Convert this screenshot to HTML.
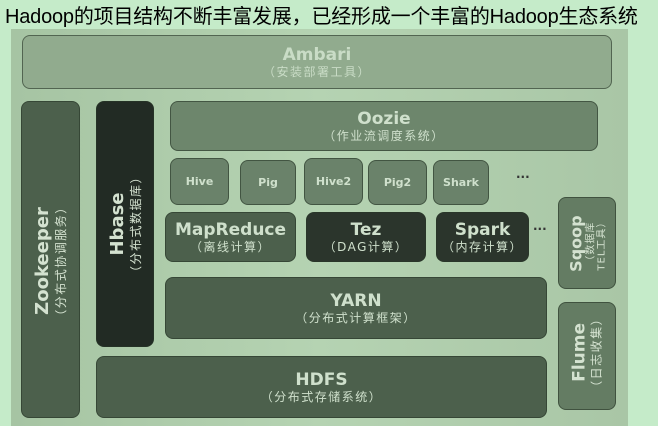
<!DOCTYPE html>
<html><head><meta charset="utf-8"><style>
body{margin:0;width:658px;height:426px;background:#c5ebc9;overflow:hidden;position:relative;font-family:"DejaVu Sans","Noto Sans CJK SC",sans-serif}
.t{position:absolute;left:5px;top:0px;font-family:"Liberation Sans","Noto Sans CJK SC",sans-serif;font-size:20px;color:#000;white-space:nowrap;letter-spacing:-0.2px}
.p{position:absolute;left:11px;top:29px;width:617px;height:397px;background:linear-gradient(90deg,#a6c4a3,#b5d3b2 50%,#a9c6a6)}
.b{position:absolute;border-radius:8px;box-sizing:border-box;border:1.5px solid rgba(40,55,40,.6);color:#cfe0cc;text-align:center;font-weight:bold;display:flex;flex-direction:column;justify-content:center;align-items:center;line-height:1.2}
.m{background:#4c604c}.d{background:#222b24}.s{background:#6a826a;font-size:11px}
.n{font-size:17px}.c{font-size:12px;font-weight:normal;letter-spacing:1.5px}
.v{position:absolute;transform:rotate(-90deg);transform-origin:center;text-align:center;color:#d4e2d0;font-weight:bold;line-height:1.2;white-space:nowrap}
.dot{position:absolute;color:#333;font-size:12px;font-weight:bold}
</style></head><body>
<div class="t">Hadoop的项目结构不断丰富发展，已经形成一个丰富的Hadoop生态系统</div>
<div class="p"></div>
<div class="b" style="left:22px;top:35px;width:590px;height:54px;background:#91ab8e;color:#c9dcc6"><div class="n">Ambari</div><div class="c">（安装部署工具）</div></div>
<div class="b m" style="left:21px;top:101px;width:59px;height:317px"></div>
<div class="v" style="left:-45px;top:243px;width:190px"><div class="n" style="font-size:18px">Zookeeper</div><div class="c">（分布式协调服务）</div></div>
<div class="b d" style="left:96px;top:101px;width:58px;height:246px"></div>
<div class="v" style="left:30px;top:206px;width:190px"><div class="n" style="font-size:18px">Hbase</div><div class="c">（分布式数据库）</div></div>
<div class="b" style="left:170px;top:101px;width:428px;height:50px;background:#6d866c"><div class="n">Oozie</div><div class="c">（作业流调度系统）</div></div>
<div class="b s" style="left:170px;top:158px;width:59px;height:47px">Hive</div>
<div class="b s" style="left:240px;top:160px;width:56px;height:45px">Pig</div>
<div class="b s" style="left:304px;top:158px;width:59px;height:47px">Hive2</div>
<div class="b s" style="left:368px;top:160px;width:59px;height:45px">Pig2</div>
<div class="b s" style="left:433px;top:160px;width:56px;height:45px">Shark</div>
<div class="dot" style="left:516px;top:170px">···</div>
<div class="b m" style="left:165px;top:212px;width:131px;height:50px"><div class="n">MapReduce</div><div class="c">（离线计算）</div></div>
<div class="b d" style="left:306px;top:212px;width:120px;height:50px;background:#2b352c"><div class="n">Tez</div><div class="c">（DAG计算）</div></div>
<div class="b d" style="left:436px;top:212px;width:93px;height:50px;background:#2b352c"><div class="n">Spark</div><div class="c">（内存计算）</div></div>
<div class="dot" style="left:533px;top:222px">···</div>
<div class="b m" style="left:558px;top:197px;width:58px;height:92px;background:#647c63"></div>
<div class="v" style="left:537px;top:223px;width:100px"><div class="n" style="font-size:16px">Sqoop</div><div class="c" style="font-size:10px;line-height:1.1;letter-spacing:1px">（数据库<br>TEL工具）</div></div>
<div class="b m" style="left:558px;top:302px;width:58px;height:108px;background:#647c63"></div>
<div class="v" style="left:522px;top:335px;width:130px"><div class="n">Flume</div><div class="c">（日志收集）</div></div>
<div class="b m" style="left:165px;top:277px;width:382px;height:62px"><div class="n">YARN</div><div class="c">（分布式计算框架）</div></div>
<div class="b m" style="left:96px;top:356px;width:451px;height:62px"><div class="n">HDFS</div><div class="c">（分布式存储系统）</div></div>
</body></html>
